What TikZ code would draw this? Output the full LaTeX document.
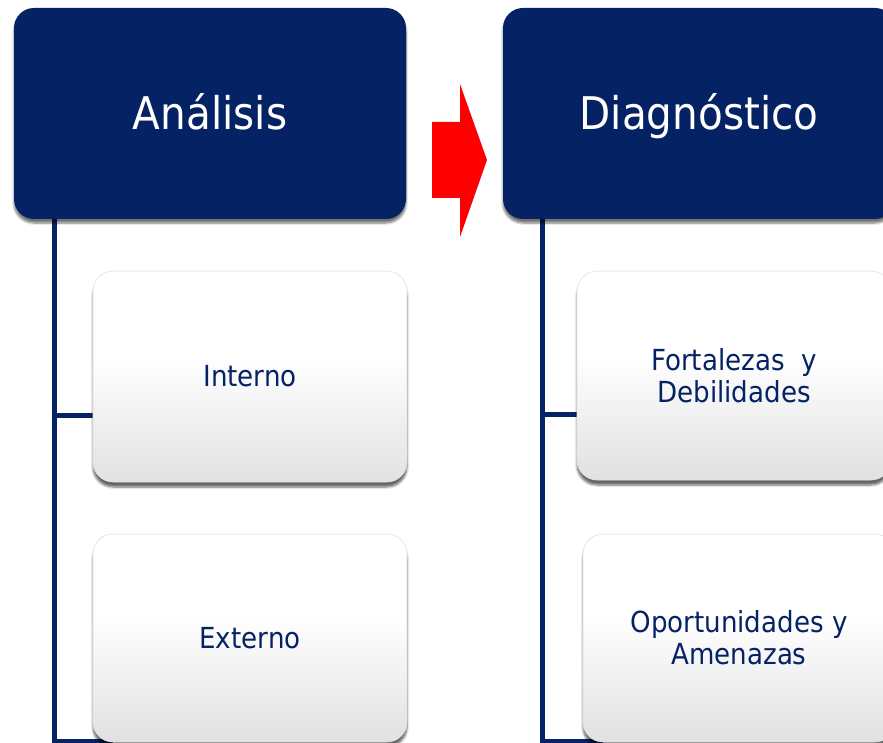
\documentclass[tikz,border=0pt]{standalone}
\usepackage{fontspec}
\setmainfont{DejaVu Sans}[FakeStretch=0.9]
\usetikzlibrary{shadows.blur,backgrounds}
\definecolor{navy}{RGB}{5,35,100}
\definecolor{boxgrey}{RGB}{204,204,204}
\definecolor{arrowred}{RGB}{255,0,0}
% white upper half fading to light grey at the bottom
\pgfdeclareverticalshading{itemshade}{100bp}{color(0bp)=(boxgrey); color(8bp)=(boxgrey!92!white); color(55bp)=(white); color(100bp)=(white)}

\begin{document}
\begin{tikzpicture}[x=1pt,y=-1pt,
  header/.style={rounded corners=20pt, fill=navy, text=white, inner sep=0pt,
    minimum width=392pt, minimum height=211pt,
    text height=40pt, text depth=7pt,
    font=\fontsize{45}{50}\selectfont,
    blur shadow={shadow xshift=0pt, shadow yshift=-4pt, shadow blur steps=6, shadow opacity=55}},
  item/.style={rounded corners=20pt, inner sep=0pt, text=navy,
    shading=itemshade, draw=black!12, line width=0.6pt,
    align=center, font=\fontsize{29}{32}\selectfont,
    blur shadow={shadow xshift=0pt, shadow yshift=-5pt, shadow blur steps=6, shadow opacity=60}},
  link/.style={draw=navy, line width=5pt}]

\useasboundingbox (0,0) rectangle (883,743);

% column headers
\node[header] (ana) at (210,113.5) {Análisis};
\node[header] (diag) at (699,113.5) {Diagnóstico};

% child boxes, left column
\node[item, minimum width=314pt, minimum height=211pt] (int) at (250,376.5) {Interno};
\node[item, minimum width=314pt, minimum height=208pt] (ext) at (250,638) {Externo};

% child boxes, right column
\node[item, minimum width=314pt, minimum height=209pt] (fd) at (734,375.5) {Fortalezas\ \ y\\Debilidades};
\node[item, minimum width=312pt, minimum height=208pt] (oa) at (739,638) {Oportunidades y\\Amenazas};

% red block arrow between the headers
\fill[arrowred] (432,122) -- (460,122) -- (460,84) -- (487,160) -- (460,237)
  -- (460,198) -- (432,198) -- cycle;

% tree connectors
\coordinate (la) at (54,219);
\coordinate (lb) at (54,741);
\coordinate (li) at (54,415);
\coordinate (ra) at (542,219);
\coordinate (rb) at (542,741);
\coordinate (ri) at (542,414);
\begin{scope}[on background layer]
  \draw[link] (la) -- (lb) -- ([xshift=20pt]ext.west |- lb);
  \draw[link] (li) -- (li -| int.west);
  \draw[link] (ra) -- (rb) -- ([xshift=20pt]oa.west |- rb);
  \draw[link] (ri) -- (ri -| fd.west);
\end{scope}
\end{tikzpicture}
\end{document}
